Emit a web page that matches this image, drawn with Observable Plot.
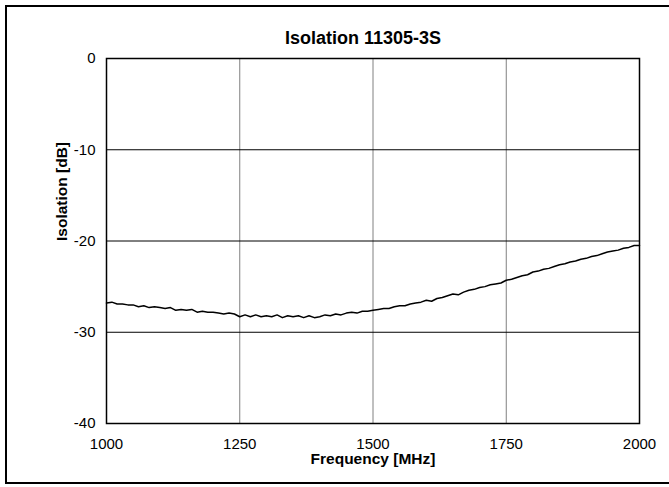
<!DOCTYPE html>
<html>
<head>
<meta charset="utf-8">
<script src="https://cdn.jsdelivr.net/npm/d3@7"></script>
<script src="https://cdn.jsdelivr.net/npm/@observablehq/plot@0.6"></script>
<style>
  html, body { margin: 0; padding: 0; background: #fff; }
  #wrap { position: relative; width: 669px; height: 487px; overflow: hidden; font-family: "Liberation Sans", Arial, sans-serif; }
  #border { position: absolute; left: 5px; top: 5px; width: 700px; height: 479px; border: 2px solid #000; box-sizing: border-box; }
  #chart { position: absolute; left: 0; top: 0; }
</style>
</head>
<body>
<div id="wrap"><div id="border"></div><div id="chart"></div></div>
<script>
const titleText = "Isolation 11305-3S";
const xLabel = "Frequency [MHz]";
const yLabel = "Isolation [dB]";
const xTicks = [1000, 1250, 1500, 1750, 2000];
const yTicks = [0, -10, -20, -30, -40];

const frequency = [
  1000,1010,1020,1030,1040,1050,1060,1070,1080,1090,
  1100,1110,1120,1130,1140,1150,1160,1170,1180,1190,
  1200,1210,1220,1230,1240,1250,1260,1270,1280,1290,
  1300,1310,1320,1330,1340,1350,1360,1370,1380,1390,
  1400,1410,1420,1430,1440,1450,1460,1470,1480,1490,
  1500,1510,1520,1530,1540,1550,1560,1570,1580,1590,
  1600,1610,1620,1630,1640,1650,1660,1670,1680,1690,
  1700,1710,1720,1730,1740,1750,1760,1770,1780,1790,
  1800,1810,1820,1830,1840,1850,1860,1870,1880,1890,
  1900,1910,1920,1930,1940,1950,1960,1970,1980,1990,2000
];
const isolation = [
  -26.8,-26.7,-26.9,-26.9,-27.0,-27.0,-27.2,-27.1,-27.3,-27.2,
  -27.3,-27.4,-27.3,-27.6,-27.5,-27.6,-27.5,-27.8,-27.7,-27.8,
  -27.8,-27.9,-28.0,-27.9,-28.0,-28.3,-28.1,-28.3,-28.1,-28.3,
  -28.2,-28.3,-28.1,-28.4,-28.2,-28.3,-28.2,-28.4,-28.2,-28.4,
  -28.3,-28.1,-28.2,-28.0,-28.1,-27.9,-27.8,-27.9,-27.7,-27.7,
  -27.6,-27.5,-27.4,-27.4,-27.2,-27.1,-27.1,-26.9,-26.8,-26.7,
  -26.5,-26.6,-26.3,-26.2,-26.0,-25.8,-25.9,-25.6,-25.4,-25.3,
  -25.1,-25.0,-24.8,-24.7,-24.6,-24.3,-24.2,-24.0,-23.8,-23.7,
  -23.4,-23.3,-23.1,-23.0,-22.8,-22.6,-22.5,-22.3,-22.2,-22.0,
  -21.9,-21.7,-21.6,-21.4,-21.2,-21.1,-21.0,-20.8,-20.7,-20.5,-20.5
];

const data = frequency.map((f, i) => ({f, v: isolation[i]}));
const font = "Liberation Sans, Arial, sans-serif";
const plain = d => String(d);

const chart = Plot.plot({
  width: 669,
  height: 487,
  marginLeft: 106,
  marginRight: 30,
  marginTop: 58,
  marginBottom: 64,
  style: {fontFamily: font, fontSize: "15px", background: "transparent", color: "#000"},
  x: {domain: [1000, 2000]},
  y: {domain: [-40, 0]},
  marks: [
    Plot.gridX(xTicks.slice(1, -1), {stroke: "#808080", strokeOpacity: 1, strokeWidth: 1}),
    Plot.gridY(yTicks.slice(1, -1), {stroke: "#000", strokeOpacity: 1, strokeWidth: 1}),
    Plot.frame({stroke: "#000", strokeWidth: 1.5}),
    Plot.axisX(xTicks, {tickSize: 0, tickPadding: 15, fontSize: 15, label: null, tickFormat: plain}),
    Plot.axisY(yTicks, {tickSize: 0, tickPadding: 11, fontSize: 15, label: null, tickFormat: plain}),
    Plot.line(data, {x: "f", y: "v", stroke: "#000", strokeWidth: 1.5}),
    Plot.text([titleText], {frameAnchor: "top", dy: -20, dx: -10, fontSize: 18, fontWeight: "bold", lineAnchor: "middle"}),
    Plot.text([xLabel], {frameAnchor: "bottom", dy: 36, fontSize: 15.5, fontWeight: "bold", lineAnchor: "middle"}),
    Plot.text([yLabel], {frameAnchor: "left", dx: -44, rotate: -90, fontSize: 15.5, fontWeight: "bold", lineAnchor: "middle"})
  ]
});
document.getElementById("chart").appendChild(chart);
</script>
</body>
</html>
